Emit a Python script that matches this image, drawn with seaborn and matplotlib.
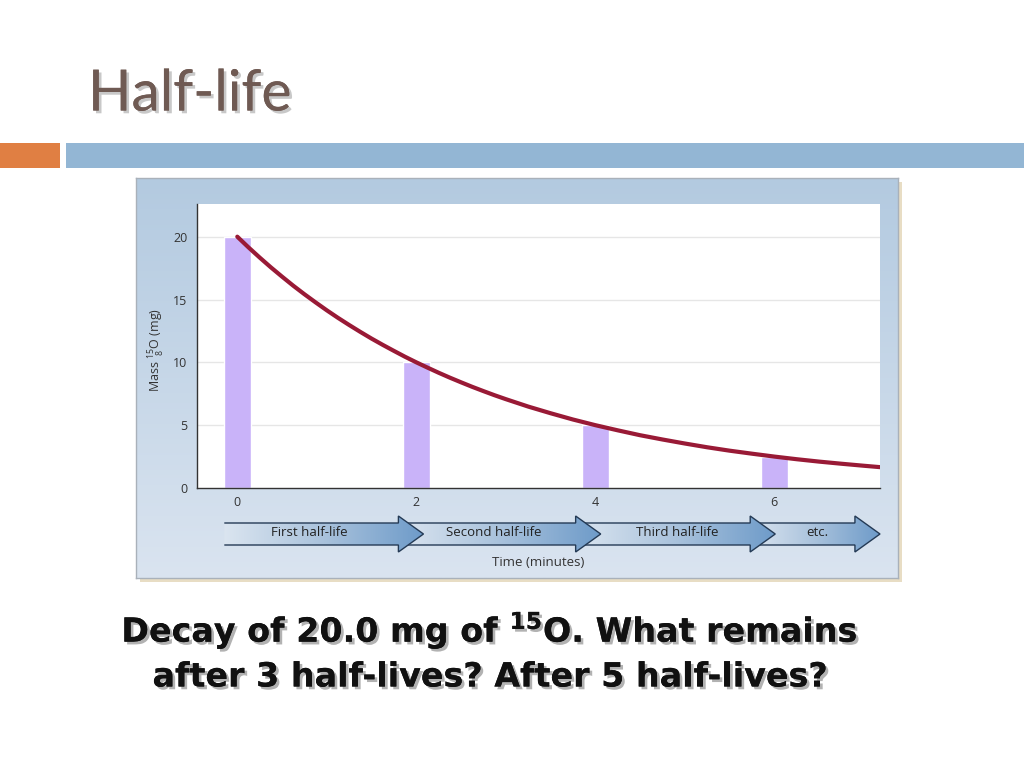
import numpy as np
import pandas as pd
import matplotlib.pyplot as plt
import matplotlib.patheffects as pe
from matplotlib.patches import Polygon, Rectangle
from matplotlib.colors import LinearSegmentedColormap
import seaborn as sns

# dados
bar_time = [0, 2, 4, 6]
bar_mass = [20.0, 10.0, 5.0, 2.5]

curve_time = [0, 0.125, 0.25, 0.375, 0.5, 0.625, 0.75, 0.875, 1, 1.125, 1.25, 1.375, 1.5, 1.625,
              1.75, 1.875, 2, 2.125, 2.25, 2.375, 2.5, 2.625, 2.75, 2.875, 3, 3.25, 3.5, 3.75,
              4, 4.25, 4.5, 4.75, 5, 5.25, 5.5, 5.75, 6, 6.25, 6.5, 6.75, 7, 7.18]
curve_mass = [20.0, 19.15, 18.34, 17.56, 16.82, 16.1, 15.42, 14.77, 14.14, 13.54, 12.97, 12.42,
              11.89, 11.39, 10.91, 10.44, 10.0, 9.58, 9.17, 8.78, 8.41, 8.05, 7.71, 7.38, 7.07,
              6.48, 5.95, 5.45, 5.0, 4.59, 4.2, 3.86, 3.54, 3.24, 2.97, 2.73, 2.5, 2.29, 2.1,
              1.93, 1.77, 1.66]

y_ticks = [0, 5, 10, 15, 20]
x_ticks = [0, 2, 4, 6]
arrow_labels = ['First half-life', 'Second half-life', 'Third half-life', 'etc.']
arrow_tips = [2.08, 4.06, 6.01, 7.18]
arrow_label_x = [0.80, 2.86, 4.92, 6.48]

W, H = 1024, 768
sns.set_theme(style='white')
plt.rcParams['font.family'] = ['Open Sans', 'DejaVu Sans']
plt.rcParams['mathtext.fontset'] = 'custom'
plt.rcParams['mathtext.rm'] = 'Open Sans'

fig = plt.figure(figsize=(W / 100, H / 100), dpi=100)
fig.patch.set_facecolor('white')


def fx(px):
    return px / W


def fy(py):
    return 1 - py / H


# título e barras decorativas
fig.text(fx(88), fy(95), 'Half-life', fontsize=41, color='#6f5a53', family=['Lato', 'DejaVu Sans'],
         va='center', ha='left',
         path_effects=[pe.withSimplePatchShadow(offset=(2, -2), shadow_rgbFace='#bbbbbb', alpha=0.8), pe.Normal()])
fig.patches.append(Rectangle((fx(0), fy(168)), fx(60), 25 / H, transform=fig.transFigure,
                             facecolor='#e07f43', edgecolor='none', zorder=-5))
fig.patches.append(Rectangle((fx(66), fy(168)), fx(958), 25 / H, transform=fig.transFigure,
                             facecolor='#93b6d4', edgecolor='none', zorder=-5))

# painel com gradiente (e sombra)
fig.patches.append(Rectangle((fx(140), fy(582)), fx(762), 400 / H, transform=fig.transFigure,
                             facecolor='#e8ddc4', edgecolor='none', zorder=-5))
panel = fig.add_axes([fx(136), fy(578), fx(762), 400 / H])
panel_cmap = LinearSegmentedColormap.from_list('panel', ['#b3cae0', '#dae4f0'])
panel.imshow(np.linspace(0, 1, 256).reshape(-1, 1), aspect='auto', cmap=panel_cmap, extent=[0, 1, 0, 1])
panel.set_xticks([])
panel.set_yticks([])
for s in panel.spines.values():
    s.set_color('#a9b1ba')
    s.set_linewidth(1)

# gráfico principal
ax = fig.add_axes([fx(197), fy(488), fx(683), 284 / H])
ax.set_facecolor('white')
for yv in y_ticks[1:]:
    ax.axhline(yv, color='#e6e6e6', lw=1, zorder=0)
sns.barplot(x=bar_time, y=bar_mass, native_scale=True, width=0.15, color='#c9b3f9',
            saturation=1, ax=ax, zorder=2)
sns.lineplot(x=curve_time, y=curve_mass, color='#991a36', lw=3, ax=ax, zorder=3)
ax.set_xlim(-0.45, 7.18)
ax.set_ylim(0, 22.6)
ax.set_yticks(y_ticks)
ax.set_xticks(x_ticks)
ax.tick_params(axis='both', length=0, labelsize=9, colors='#333333', pad=7)
ax.tick_params(axis='x', pad=6)
for side in ['top', 'right']:
    ax.spines[side].set_visible(False)
for side in ['left', 'bottom']:
    ax.spines[side].set_color('#333333')
    ax.spines[side].set_linewidth(1)
ax.set_xlabel('')
ax.set_ylabel('')
fig.text(fx(157), fy(350), r'Mass $\mathregular{^{15}_{\ 8}}$O (mg)', rotation=90, ha='center', va='center',
         fontsize=9, color='#333333')

# setas dos períodos de meia-vida (a primeira fica por cima)
ax_arr = fig.add_axes([fx(197), fy(556), fx(683), 44 / H], sharex=ax)
ax_arr.axis('off')
arrow_cmap = LinearSegmentedColormap.from_list('arrow', ['#dbe5f0', '#a9c2dc', '#6e9bc9'])
head = 0.28
starts = [-0.145] + [t - head for t in arrow_tips[:-1]]
for i in range(len(arrow_tips)):
    x0, x1 = starts[i], arrow_tips[i]
    xb = x1 - head
    z = 10 - 2 * i
    pts = [(x0, 11), (xb, 11), (xb, 4), (x1, 22), (xb, 40), (xb, 33), (x0, 33)]
    clip = Polygon(pts, closed=True, facecolor='none', edgecolor='none', transform=ax_arr.transData)
    im = ax_arr.imshow(np.linspace(0, 1, 256).reshape(1, -1), aspect='auto', cmap=arrow_cmap,
                       extent=[x0, x1, 40, 4], zorder=z)
    im.set_clip_box(None)
    im.set_clip_path(clip)
    im.set_clip_on(True)
    outline = Polygon(pts, closed=False, facecolor='none', edgecolor='#243a55', lw=1, zorder=z + 0.5,
                      clip_on=False)
    ax_arr.add_patch(outline)
ax_arr.set_xlim(-0.45, 7.18)
ax_arr.set_ylim(44, 0)
for lx, lab in zip(arrow_label_x, arrow_labels):
    ax_arr.text(lx, 21, lab, ha='center', va='center', fontsize=9.5, color='#222222', zorder=20)
fig.text(fx(538), fy(562), 'Time (minutes)', ha='center', va='center', fontsize=9.5, color='#333333')

# texto da pergunta
shadow = [pe.withSimplePatchShadow(offset=(2, -2), shadow_rgbFace='#aaaaaa', alpha=0.9), pe.Normal()]
q_font = ['DejaVu Sans']
fig.text(fx(490), fy(630), r'Decay of 20.0 mg of $\mathregular{^{15}}$O. What remains', ha='center',
         va='center', fontsize=24, fontweight='bold', color='#111111', family=q_font, path_effects=shadow)
fig.text(fx(490), fy(677), 'after 3 half-lives? After 5 half-lives?', ha='center', va='center',
         fontsize=24, fontweight='bold', color='#111111', family=q_font, path_effects=shadow)

plt.savefig('out.png', dpi=100)
